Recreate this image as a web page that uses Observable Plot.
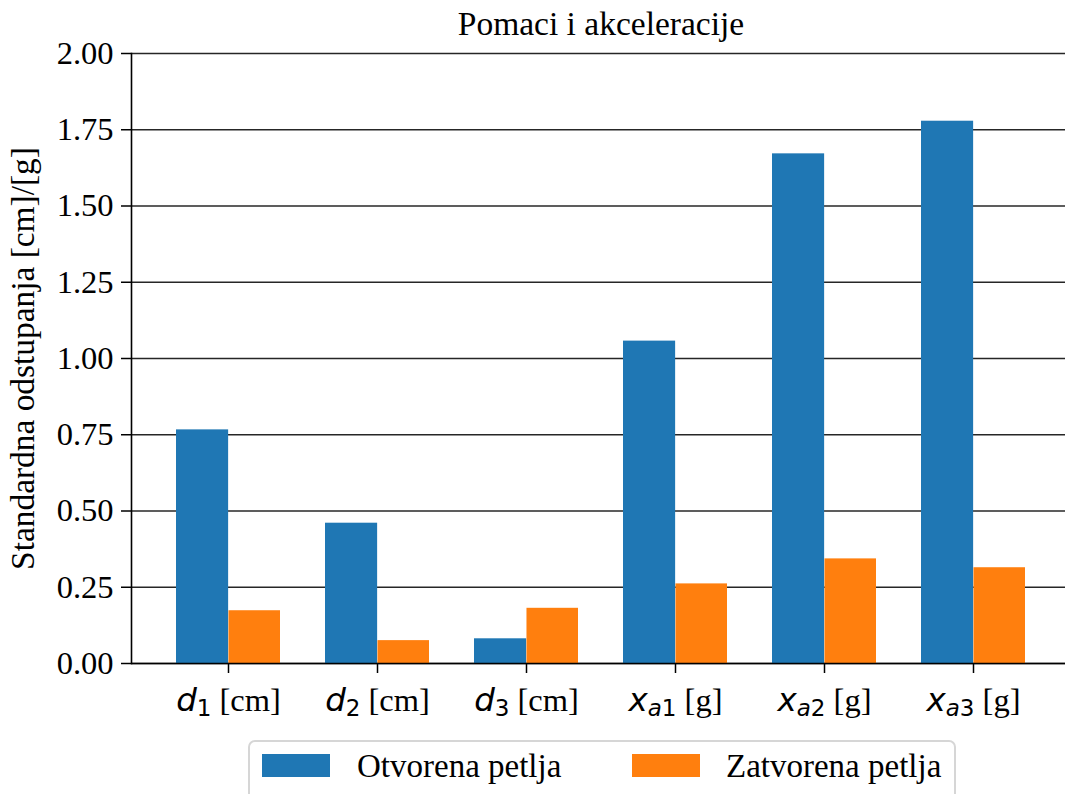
<!DOCTYPE html>
<html><head><meta charset="utf-8">
<script src="https://cdn.jsdelivr.net/npm/d3@7"></script>
<script src="https://cdn.jsdelivr.net/npm/@observablehq/plot@0.6"></script>
<style>
html,body{margin:0;padding:0;background:#fff;overflow:hidden}
#fig{position:relative;width:1065px;height:794px;overflow:hidden;font-family:"Liberation Serif","Times New Roman",serif;background:#fff}
#fig svg{position:absolute;left:0;top:0}
.ttl{position:absolute;left:131px;width:940px;top:7px;text-align:center;font-size:33.5px;line-height:33px;color:#000;white-space:nowrap}
.legend{position:absolute;left:248px;top:740px;width:708px;height:80px;border:2px solid #d6d6d6;border-radius:7px;background:#fff;box-sizing:border-box}
.sw{position:absolute;width:68px;height:23px}
.lt{position:absolute;font-size:33px;line-height:33px;color:#000;white-space:nowrap}
</style></head><body><div id="fig"></div><script>
const categories = ["d1 [cm]","d2 [cm]","d3 [cm]","xa1 [g]","xa2 [g]","xa3 [g]"];
const labelSymbols = ["d","d","d","x","x","x"];
const labelSubItalic = ["","","","a","a","a"];
const labelSubUpright = ["1","2","3","1","2","3"];
const labelUnits = ["[cm]","[cm]","[cm]","[g]","[g]","[g]"];
const seriesNames = ["Otvorena petlja","Zatvorena petlja"];
const seriesColors = ["#1f77b4","#ff7f0e"];
const otvorena = [0.766,0.460,0.081,1.057,1.671,1.778];
const zatvorena = [0.173,0.075,0.181,0.261,0.343,0.314];
const yTicks = [0,0.25,0.5,0.75,1,1.25,1.5,1.75,2];
const titleText = "Pomaci i akceleracije";
const yLabel = "Standardna odstupanja [cm]/[g]";

const data = categories.flatMap((c,i) => [
  {cat:c, series:seriesNames[0], value:otvorena[i]},
  {cat:c, series:seriesNames[1], value:zatvorena[i]}
]);

const xRange = [131, 1071];
const pInner = 0.3, pOuter = 0.285;
const step = (xRange[1]-xRange[0]) / (categories.length - pInner + 2*pOuter);
const bw = step*(1-pInner);

const svg = Plot.plot({
  width: 1065, height: 740,
  marginTop: 53, marginBottom: 77, marginLeft: 131, marginRight: 0,
  style: {fontFamily: '"Liberation Serif","Times New Roman",serif', fontSize: "32.5px", color: "#000", background: "transparent", overflow: "visible"},
  x: {domain: categories, range: xRange, paddingInner: pInner, paddingOuter: pOuter, label: null},
  y: {domain: [0, 2], label: null},
  marks: [
    Plot.gridY(yTicks, {stroke: "#000", strokeOpacity: 0.85, strokeWidth: 1.3}),
    Plot.barY(data.filter(d => d.series === seriesNames[0]), {x: "cat", y: "value", fill: seriesColors[0], insetRight: bw/2 - 0.6}),
    Plot.barY(data.filter(d => d.series === seriesNames[1]), {x: "cat", y: "value", fill: seriesColors[1], insetLeft: bw/2}),
    Plot.ruleY([0], {stroke: "#000", strokeWidth: 1.6}),
    Plot.frame({anchor: "left", stroke: "#000", strokeWidth: 1.6}),
    Plot.axisY({ticks: yTicks, tickFormat: d3.format(".2f"), tickSize: 10, tickPadding: 8, strokeWidth: 1.5,
      label: yLabel, labelAnchor: "center", labelArrow: "none", labelOffset: 121}),
    Plot.axisX({tickSize: 10, tickPadding: 14, strokeWidth: 1.5, label: null})
  ]
});

svg.querySelectorAll('g[aria-label="y-axis label"], g[aria-label="y-axis label"] text').forEach(g => {
  g.setAttribute("font-size", "33.4px");
  g.style.fontSize = "33.4px";
});

const ns = "http://www.w3.org/2000/svg";
svg.querySelectorAll('g[aria-label="x-axis tick label"] text').forEach(t => {
  const i = categories.indexOf(t.textContent);
  if (i < 0) return;
  t.textContent = "";
  const mk = (txt, attrs) => {
    const s = document.createElementNS(ns, "tspan");
    for (const k in attrs) s.setAttribute(k, attrs[k]);
    s.textContent = txt; t.appendChild(s); return s;
  };
  mk(labelSymbols[i], {"font-family": "DejaVu Sans", "font-style": "oblique"});
  if (labelSubItalic[i]) mk(labelSubItalic[i], {"font-family": "DejaVu Sans", "font-style": "oblique", "font-size": "23px", dy: "5"});
  mk(labelSubUpright[i], {"font-family": "DejaVu Sans", "font-size": "23px", dy: labelSubItalic[i] ? "0" : "5"});
  mk("\u00a0" + labelUnits[i], {dy: "-5"});
});

const fig = document.getElementById("fig");
fig.appendChild(svg);

const ttl = document.createElement("div");
ttl.className = "ttl"; ttl.textContent = titleText;
fig.appendChild(ttl);

const leg = document.createElement("div");
leg.className = "legend";
fig.appendChild(leg);
const swLeft = [262, 632], txtLeft = [357, 726];
seriesNames.forEach((name, k) => {
  const sw = document.createElement("div");
  sw.className = "sw"; sw.style.left = swLeft[k] + "px"; sw.style.top = "754px"; sw.style.background = seriesColors[k];
  fig.appendChild(sw);
  const lt = document.createElement("div");
  lt.className = "lt"; lt.style.left = txtLeft[k] + "px"; lt.style.top = "750px"; lt.textContent = name;
  fig.appendChild(lt);
});
</script></body></html>
